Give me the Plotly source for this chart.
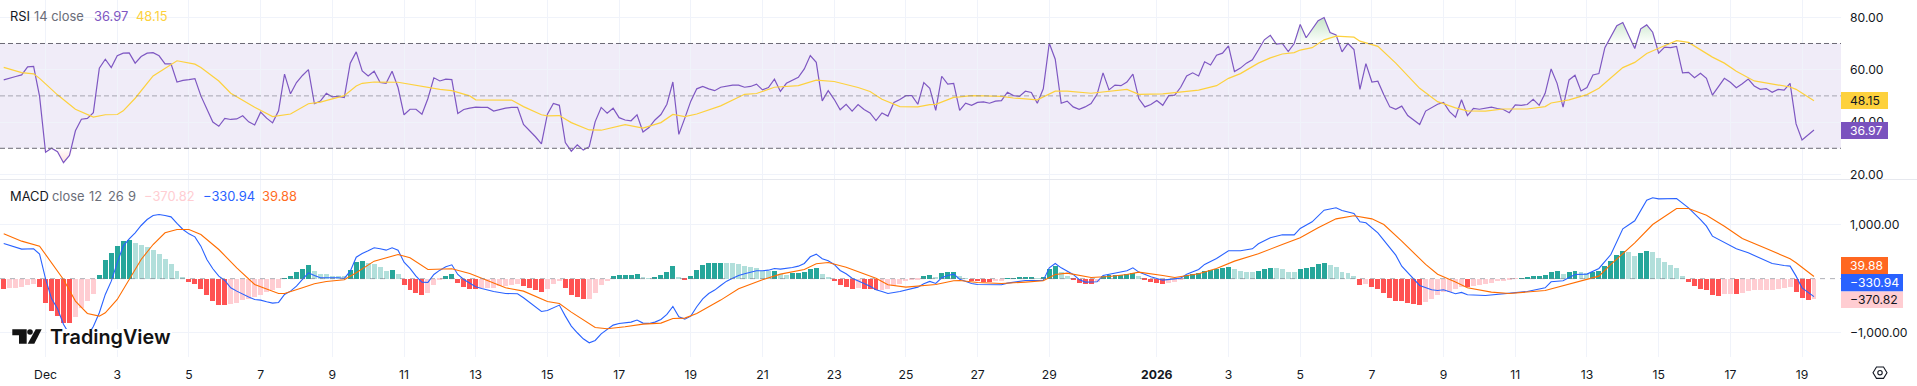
import pandas as pd
import plotly.graph_objects as go

W, H = 1917, 386
PLOT_W, PLOT_H = 1841, 357

# ---- data (4-hour bars) ----
bar_start = "2025-11-29 20:00"

rsi = [56.1,56.9,57.4,58.0,61.1,61.3,49.8,28.5,30.0,28.7,
24.5,27.3,36.7,41.1,41.4,43.6,60.6,64.0,60.8,65.3,
66.3,66.4,62.5,65.0,66.3,66.5,65.3,62.2,62.2,55.3,
55.9,56.2,56.6,50.0,44.7,40.0,38.4,41.4,41.0,41.2,
42.4,40.1,38.9,43.8,41.5,39.7,44.3,58.3,50.8,55.1,
57.8,60.0,47.0,48.0,51.0,49.6,49.8,49.4,62.5,66.8,
59.5,57.6,59.4,55.1,54.8,59.4,53.2,42.8,44.9,44.9,
43.0,49.0,56.9,55.7,56.4,56.2,43.3,44.8,45.3,45.7,
45.6,45.6,44.2,44.8,45.3,45.6,45.6,39.1,36.8,34.4,
31.7,43.0,47.1,46.4,32.2,28.9,31.3,29.3,30.6,40.2,
45.6,43.4,45.3,41.7,40.8,40.5,42.8,36.2,37.9,40.8,
42.9,46.8,55.3,35.3,41.5,48.0,52.7,53.6,52.7,52.0,
53.3,53.8,54.1,54.1,53.3,53.6,54.5,52.3,53.2,56.4,
51.7,54.8,56.1,57.1,60.3,65.4,62.8,48.1,52.0,48.7,
44.7,46.8,44.2,46.7,44.8,43.5,40.6,43.5,42.3,47.5,
48.6,50.1,50.1,46.8,55.1,52.9,44.5,57.5,54.5,54.8,
44.5,47.2,46.4,47.5,47.7,47.2,48.0,48.2,51.4,50.1,
49.8,51.8,51.3,47.2,52.7,70.1,64.0,47.2,48.0,45.8,
44.9,45.8,47.1,50.6,58.8,52.3,54.1,53.9,55.3,58.3,
48.9,45.8,46.7,48.2,46.4,50.1,50.3,53.3,57.6,58.8,
57.6,63.0,61.8,65.5,66.3,69.1,59.3,60.6,62.5,63.8,
67.5,71.4,73.1,69.8,70.0,66.9,70.0,77.3,72.2,75.4,
78.7,79.9,74.2,73.3,66.8,70.0,67.7,52.5,62.3,55.3,
55.6,50.4,45.8,44.9,46.1,42.5,40.8,39.1,44.2,45.4,
46.8,47.5,44.0,41.9,48.5,42.5,45.2,44.9,45.2,45.7,
45.2,44.8,43.6,46.6,46.4,46.7,48.7,46.4,51.0,60.3,
54.8,45.7,56.1,57.9,51.9,53.2,58.0,58.5,68.4,72.4,
76.8,78.0,73.0,68.1,75.6,77.1,74.3,66.3,68.6,68.4,
68.9,58.8,59.0,56.9,58.6,56.7,50.3,53.3,56.7,55.2,
53.1,54.6,56.4,53.8,52.5,52.8,51.4,52.5,52.2,54.8,
39.3,33.2,35.1,36.97]

rsi_ma_bar = [0,3,5,6,9,12,15,17,19,20,22,25,29,32,33,36,38,42,45,48,51,53,57,59,60,62,66,70,71,73,75,78,79,
85,87,90,91,93,95,98,100,104,107,110,112,114,116,120,124,126,129,130,133,136,139,143,145,147,150,153,155,156,159,
160,162,164,167,169,173,176,178,182,185,188,190,194,198,200,203,205,207,210,212,214,216,217,219,221,223,226,227,230,233,237,240,
243,245,248,251,255,258,259,262,265,267,271,273,275,277,280,282,286,288,290,293,296,299,300,303]
rsi_ma = [60.9,58.9,58.4,56.7,50.4,44.9,41.9,42.8,42.9,44.3,49.1,57.6,63.4,62.1,60.8,55.7,51.0,45.7,42.1,43.1,47.0,47.6,50.1,53.8,54.8,55.3,55.2,53.6,53.4,52.5,52.0,50.0,48.5,
48.4,45.9,42.8,42.4,42.5,39.8,37.0,36.9,39.0,37.7,39.8,42.9,42.1,43.1,46.2,50.6,50.9,53.3,53.4,53.9,56.0,55.5,53.2,51.7,48.7,45.9,45.8,46.7,46.8,49.4,
49.6,50.1,50.0,49.8,49.2,48.5,51.8,51.8,51.0,51.8,52.5,50.6,50.8,51.7,52.2,53.9,56.7,58.5,62.5,64.5,66.0,66.5,67.5,68.4,71.4,72.8,72.4,70.9,68.9,62.5,52.9,47.8,
45.4,44.3,44.2,45.0,45.0,45.9,47.3,48.5,50.5,52.9,60.8,62.8,66.2,68.2,71.1,70.4,64.8,62.5,59.4,55.7,54.5,53.4,52.5,48.15]

hist = [-187,-169,-165,-150,-113,-101,-156,-451,-598,-690,
-818,-825,-708,-543,-414,-285,64,340,469,598,
696,708,653,616,585,524,457,359,273,132,
28,-64,-101,-193,-303,-414,-487,-493,-469,-451,
-401,-377,-340,-303,-248,-211,-175,9,46,120,
175,248,138,83,80,46,42,40,156,303,
322,285,267,211,138,156,83,-120,-211,-267,
-303,-267,-120,-28,46,83,-83,-156,-193,-195,
-175,-169,-165,-138,-136,-120,-101,-138,-175,-211,
-248,-193,-101,-46,-175,-303,-340,-377,-371,-267,
-120,-46,46,64,66,70,83,28,9,28,
64,120,230,28,-28,46,156,248,285,287,
291,285,283,267,230,211,193,138,136,138,
77,75,101,107,120,175,193,83,28,-46,
-120,-156,-193,-175,-193,-199,-211,-205,-193,-138,
-101,-52,-34,-28,52,64,34,101,120,126,
46,9,-46,-52,-58,-64,-46,-44,9,10,
12,28,30,9,28,175,230,120,46,-28,
-77,-101,-107,-70,46,64,66,70,83,95,
46,-28,-64,-83,-101,-83,-64,-28,58,83,
95,132,156,175,193,211,175,138,120,118,
138,175,193,191,175,120,118,175,193,211,
267,285,248,211,120,101,46,-120,-101,-156,
-193,-267,-359,-414,-420,-451,-469,-487,-432,-377,
-303,-248,-246,-199,-156,-162,-138,-120,-101,-77,
-46,-40,-34,-5,9,28,46,49,64,120,
138,83,120,138,120,101,120,138,230,322,
432,506,487,414,469,506,487,377,303,248,
193,46,-64,-138,-193,-211,-303,-322,-285,-283,
-291,-267,-230,-211,-209,-207,-205,-193,-175,-156,
-248,-359,-392,-370.82]

macd_bar = [0,3,5,6,7,8,9,10,11,12,13,14,15,16,17,18,19,20,21,22,23,24,25,26,27,28,29,30,31,32,33,34,35,36,37,38,39,40,41,42,43,44,45,46,47,48,49,50,51,52,53,54,55,56,57,58,59,60,61,62,63,64,65,66,67,68,69,70,71,72,73,74,75,76,77,78,79,
80,82,84,86,87,88,89,90,91,92,93,94,95,96,97,98,99,100,101,102,103,104,105,106,107,108,109,110,111,112,113,114,115,116,117,118,119,120,121,122,123,124,125,126,127,128,129,130,132,133,134,135,136,137,138,139,140,141,142,143,144,145,146,147,148,150,152,153,154,155,156,157,158,159,
160,162,163,167,168,171,174,175,176,177,179,180,181,183,184,186,188,189,190,192,194,197,198,200,201,203,205,207,209,210,212,214,216,217,219,221,223,224,226,227,228,230,233,234,237,239,240,
241,243,244,245,248,252,255,258,259,261,263,265,267,269,271,273,275,276,277,280,282,284,285,286,288,290,292,294,296,298,299,300,301,303]
macd = [647,543,549,451,-3,-368,-552,-840,-1025,-1122,-1079,-1054,-880,-628,-291,-46,291,598,733,843,978,1088,1162,1180,1162,1137,1015,904,824,769,598,352,181,46,-34,-169,-230,-291,-340,-383,-395,-426,-451,-438,-291,-230,-138,-15,107,58,15,15,21,15,3,138,395,463,512,567,549,524,567,524,303,187,46,-64,-70,77,156,218,254,77,-15,-89,-150,
-181,-236,-273,-279,-352,-432,-518,-604,-585,-536,-487,-690,-873,-996,-1107,-1180,-1137,-1015,-935,-855,-824,-818,-800,-763,-818,-824,-800,-751,-659,-512,-702,-745,-690,-518,-371,-273,-211,-126,-46,9,58,89,120,144,144,156,187,175,205,230,279,402,451,365,328,261,150,89,9,-34,-89,-138,-205,-236,-273,-236,-175,-156,-95,-52,-89,15,58,83,
-10,-89,-107,-113,-83,-34,-34,199,279,199,77,-15,-64,-58,58,107,144,199,120,34,-28,9,83,169,261,371,512,512,549,641,751,806,806,923,1045,1260,1303,1254,1198,1045,1027,843,432,230,-126,-205,-218,
-205,-279,-254,-297,-310,-273,-236,-169,-58,-40,77,83,187,444,916,1064,1444,1487,1468,1474,1303,1088,965,782,671,549,475,383,279,242,230,46,-169,-330.94]

signal_bar = [0,3,6,8,10,12,14,16,17,19,21,23,25,27,29,31,33,36,39,42,46,47,50,52,54,57,59,62,66,68,71,75,78,80,
82,84,87,91,93,95,99,101,104,107,110,112,114,116,120,123,127,130,134,136,138,141,146,148,151,153,156,159,
160,163,167,171,174,176,178,182,185,188,190,194,196,200,203,206,210,214,217,220,223,226,229,231,234,238,240,
243,245,249,252,258,262,267,269,273,276,279,280,282,285,288,291,295,299,300,303]
signal = [824,690,598,303,-15,-414,-641,-690,-628,-383,-15,352,628,843,904,904,812,536,199,-107,-273,-273,-169,-95,-52,-21,107,322,444,383,169,181,95,3,
-89,-169,-230,-420,-457,-616,-898,-923,-886,-837,-818,-733,-726,-641,-395,-187,-21,83,169,273,297,211,9,-113,-156,-138,-107,-40,
-34,-70,-89,-64,-40,77,101,21,40,77,120,58,21,89,187,322,457,628,751,935,1100,1156,1100,996,690,261,80,
-64,-169,-248,-273,-218,-95,46,261,659,996,1223,1290,1290,1168,965,739,555,365,291,39.88]

x_tick_dates = ["2025-12-01","2025-12-03","2025-12-05","2025-12-07","2025-12-09","2025-12-11","2025-12-13","2025-12-15",
                "2025-12-17","2025-12-19","2025-12-21","2025-12-23","2025-12-25","2025-12-27","2025-12-29","2026-01-01",
                "2026-01-03","2026-01-05","2026-01-07","2026-01-09","2026-01-11","2026-01-13","2026-01-15","2026-01-17","2026-01-19"]
x_tick_labels = ["Dec","3","5","7","9","11","13","15","17","19","21","23","25","27","29","<b>2026</b>",
                 "3","5","7","9","11","13","15","17","19"]
rsi_ticks = [20, 40, 60, 80]
rsi_tick_labels = ["20.00", "40.00", "60.00", "80.00"]
macd_ticks = [-1000, 1000]
macd_tick_labels = ["−1,000.00", "1,000.00"]

# ---- styling ----
C_RSI, C_MA = "#7E57C2", "#FDD13D"
C_MACD, C_SIG = "#2962FF", "#FF6D00"
C_GRID, C_TEXT, C_MUTED = "#F0F3FA", "#131722", "#6A6D78"
FONT = "Inter"
AXIS_SIZE = 12.2

dates = pd.date_range(bar_start, periods=len(rsi), freq="4h")
hdates = pd.date_range(bar_start, periods=len(hist), freq="4h")

def hist_color(i):
    prev = hist[i - 1] if i else 0
    if hist[i] >= 0:
        return "#26A69A" if hist[i] > prev else "#B2DFDB"
    return "#FF5252" if hist[i] < prev else "#FFCDD2"

fig = go.Figure()

# RSI overbought / oversold gradient fill
for level, clip, col, stop in [(70, max, "76,175,80", 80), (30, min, "244,67,54", 20)]:
    fig.add_trace(go.Scatter(x=dates, y=[level] * len(rsi), mode="lines", line=dict(width=0),
                             hoverinfo="skip", showlegend=False, xaxis="x", yaxis="y"))
    fig.add_trace(go.Scatter(x=dates, y=[clip(v, level) for v in rsi], mode="lines", line=dict(width=0),
                             fill="tonexty",
                             fillgradient=dict(type="vertical",
                                               colorscale=[[0, f"rgba({col},0.0)"], [1, f"rgba({col},0.32)"]],
                                               start=level, stop=stop),
                             hoverinfo="skip", showlegend=False, xaxis="x", yaxis="y"))

fig.add_trace(go.Scatter(x=dates, y=rsi, mode="lines", line=dict(color=C_RSI, width=1.2),
                         name="RSI", showlegend=False, xaxis="x", yaxis="y"))
fig.add_trace(go.Scatter(x=[dates[i] for i in rsi_ma_bar], y=rsi_ma, mode="lines",
                         line=dict(color=C_MA, width=1.2), name="RSI MA", showlegend=False, xaxis="x", yaxis="y"))

fig.add_trace(go.Bar(x=hdates, y=hist, marker=dict(color=[hist_color(i) for i in range(len(hist))], line=dict(width=0)),
                     width=4 * 3600 * 1000 * 0.83, name="Histogram", showlegend=False, xaxis="x2", yaxis="y2"))
fig.add_trace(go.Scatter(x=[hdates[i] for i in macd_bar], y=macd, mode="lines",
                         line=dict(color=C_MACD, width=1.1), name="MACD", showlegend=False, xaxis="x2", yaxis="y2"))
fig.add_trace(go.Scatter(x=[hdates[i] for i in signal_bar], y=signal, mode="lines",
                         line=dict(color=C_SIG, width=1.1), name="Signal", showlegend=False, xaxis="x2", yaxis="y2"))

def px(x):
    return x / PLOT_W

def py(y):
    return 1 - y / PLOT_H

shapes = []
# RSI band and levels
shapes.append(dict(type="rect", xref="paper", yref="y", x0=0, x1=1, y0=30, y1=70, layer="below",
                   fillcolor="rgba(126,87,194,0.115)", line=dict(width=0)))
for lvl, col in [(70, "#6B6A75"), (30, "#6B6A75"), (50, "rgba(120,123,134,0.62)")]:
    shapes.append(dict(type="line", xref="paper", yref="y", x0=0, x1=1, y0=lvl, y1=lvl, layer="above",
                       line=dict(color=col, width=1, dash="5px,3px")))
# MACD zero line
shapes.append(dict(type="line", xref="paper", yref="y2", x0=0, x1=1, y0=0, y1=0, layer="above",
                   line=dict(color="rgba(120,123,134,0.6)", width=1, dash="5px,5px")))
# pane separator
shapes.append(dict(type="line", xref="paper", yref="paper", x0=0, x1=W / PLOT_W, y0=py(179.5), y1=py(179.5),
                   layer="below", line=dict(color="#E6E8EE", width=1)))
# logo backing and mark
shapes.append(dict(type="rect", xref="paper", yref="paper", x0=px(47), x1=px(172), y0=py(350), y1=py(329),
                   layer="above", fillcolor="#FFFFFF", line=dict(width=0)))
def poly(points):
    return "M " + " L ".join(f"{px(a):.5f} {py(b):.5f}" for a, b in points) + " Z"
LOGO = "#131313"
shapes.append(dict(type="path", xref="paper", yref="paper", layer="above", fillcolor=LOGO, line=dict(width=0),
                   path=poly([(12.3, 329.3), (26.7, 329.3), (26.7, 343.7), (19, 343.7), (19, 335.3), (12.3, 335.3)])))
shapes.append(dict(type="circle", xref="paper", yref="paper", layer="above", fillcolor=LOGO, line=dict(width=0),
                   x0=px(27.2), x1=px(32.8), y0=py(334.8), y1=py(329.2)))
shapes.append(dict(type="path", xref="paper", yref="paper", layer="above", fillcolor=LOGO, line=dict(width=0),
                   path=poly([(35.7, 329.3), (41.7, 329.3), (34.3, 343.7), (27.7, 343.7)])))
# settings icon
shapes.append(dict(type="path", xref="paper", yref="paper", layer="above", line=dict(color=C_TEXT, width=1.1),
                   path=poly([(1873, 372.7), (1876.5, 367), (1883.5, 367), (1887, 372.7), (1883.5, 378.4), (1876.5, 378.4)])))
shapes.append(dict(type="circle", xref="paper", yref="paper", layer="above", line=dict(color=C_TEXT, width=1.1),
                   x0=px(1877.8), x1=px(1882.2), y0=py(374.9), y1=py(370.5)))

annotations = []
def text(x, y, s, color, size=12.9, weight=None):
    f = dict(family=FONT, size=size, color=color)
    if weight:
        f["weight"] = weight
    annotations.append(dict(xref="paper", yref="paper", x=px(x), y=py(y), text=s, showarrow=False,
                            xanchor="left", yanchor="middle", font=f, borderpad=0, align="left"))

text(9, 16.7, "RSI", C_TEXT)
text(33, 16.7, "14 close", C_MUTED)
text(92.7, 16.7, "36.97", C_RSI)
text(135, 16.7, "48.15", C_MA)
text(9, 196.7, "MACD", C_TEXT)
text(51, 196.7, "close", C_MUTED)
text(88, 196.7, "12", C_MUTED)
text(107, 196.7, "26", C_MUTED)
text(127, 196.7, "9", C_MUTED)
text(143, 196.7, "−370.82", "#FFCDD2")
text(202, 196.7, "−330.94", C_MACD)
text(261, 196.7, "39.88", "#FF6D1F")
text(49, 337, "TradingView", "#131313", size=19.8, weight=600)

def price_box(y0, y1, x1, s, bg, fg):
    shapes.append(dict(type="rect", xref="paper", yref="paper", x0=px(1841), x1=px(x1), y0=py(y1), y1=py(y0),
                       layer="above", fillcolor=bg, line=dict(width=0)))
    text(1849, (y0 + y1) / 2, s, fg, size=AXIS_SIZE)

price_box(92, 109, 1888, "48.15", "#FDD13D", C_TEXT)
price_box(122, 139, 1888, "36.97", "#7A52BE", "#FFFFFF")
price_box(257, 274, 1888, "39.88", "#FF6720", "#FFFFFF")
price_box(274, 291.5, 1903, "−330.94", "#2962FF", "#FFFFFF")
price_box(291.5, 308, 1903, "−370.82", "#FFCDD2", C_TEXT)

range_start = "2025-11-29 17:30"
range_end = "2026-01-20 02:05"
y_split_top = (PLOT_H - 179) / PLOT_H
y_split_bot = (PLOT_H - 180) / PLOT_H

fig.update_layout(
    width=W, height=H, margin=dict(l=0, r=W - PLOT_W, t=0, b=H - PLOT_H),
    paper_bgcolor="white", plot_bgcolor="white", showlegend=False, bargap=0, barmode="overlay",
    font=dict(family=FONT, size=13, color=C_TEXT),
    hovermode=False,
    shapes=shapes, annotations=annotations,
    xaxis=dict(domain=[0, 1], anchor="y", type="date", range=[range_start, range_end], tickvals=x_tick_dates,
               ticktext=[""] * len(x_tick_dates), showgrid=True, gridcolor=C_GRID, gridwidth=1, zeroline=False,
               showline=False, ticks=""),
    xaxis2=dict(domain=[0, 1], anchor="y2", type="date", range=[range_start, range_end], tickvals=x_tick_dates,
                ticktext=x_tick_labels, showgrid=True, gridcolor=C_GRID, gridwidth=1, zeroline=False,
                showline=False, ticks="", tickangle=0, tickfont=dict(family=FONT, size=AXIS_SIZE, color=C_TEXT),
                ticklabelstandoff=9),
    yaxis=dict(domain=[y_split_top, 1], anchor="x", side="right", range=[18.28, 86.6], tickvals=rsi_ticks,
               ticktext=rsi_tick_labels, showgrid=True, gridcolor=C_GRID, gridwidth=1, zeroline=False, showline=False,
               ticks="", tickfont=dict(family=FONT, size=AXIS_SIZE, color=C_TEXT), ticklabelstandoff=8),
    yaxis2=dict(domain=[0, y_split_bot], anchor="x2", side="right", range=[-1442, 1815], tickvals=macd_ticks,
                ticktext=macd_tick_labels, showgrid=True, gridcolor=C_GRID, gridwidth=1, zeroline=False, showline=False,
                ticks="", tickfont=dict(family=FONT, size=AXIS_SIZE, color=C_TEXT), ticklabelstandoff=8),
)

fig.write_html("out.html", config={"displayModeBar": False},
               post_script="document.body.style.margin='0';document.body.style.overflow='hidden';")
